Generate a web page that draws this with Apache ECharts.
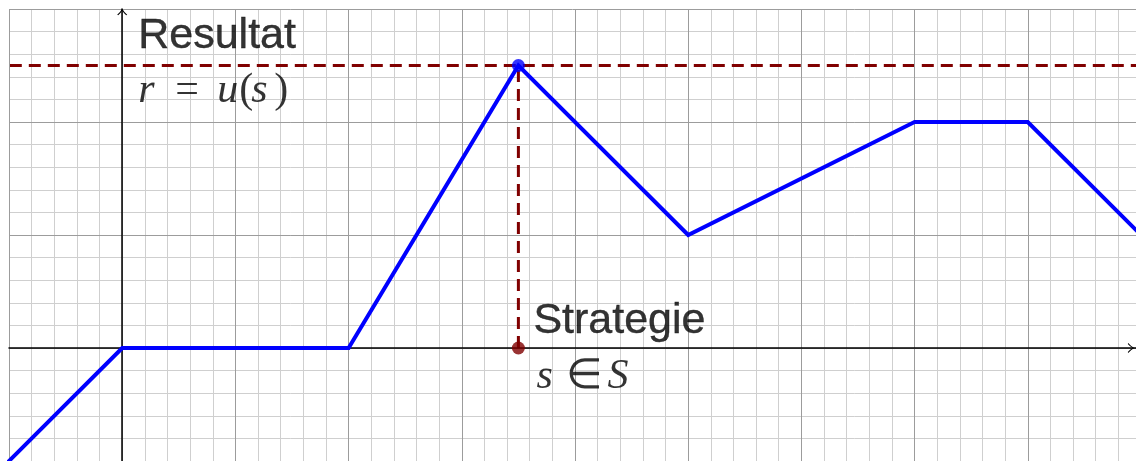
<!DOCTYPE html>
<html>
<head>
<meta charset="utf-8">
<script src="https://cdn.jsdelivr.net/npm/echarts@6/dist/echarts.min.js"></script>
<style>
  html, body { margin: 0; padding: 0; background: #fff; }
  #chart { width: 1136px; height: 461px; }
</style>
</head>
<body>
<div id="chart"></div>
<script>
// Nutzenfunktion r = u(s), stueckweise linear
const stratX = [-2, 0, 2, 3.5, 5, 7, 8, 10]
const resultY = [-2, 0, 0, 2.5, 1, 2, 2, 0]
// Optimum
const bestS = 3.5
const bestR = 2.5
// Achsenbereich (rechts abgeschnitten)
const xMin = -1
const xMax = 8.956
const yMin = -1
const yMax = 3
const axisTexts = ['Resultat', 'Strategie']

const blue = '#0000ff'
const darkRed = '#800000'
const arrow = 'path://M0,6 Q3,3.5 5,0 Q7,3.5 10,6 L9,6.4 Q6.5,4.3 5,1.6 Q3.5,4.3 1,6.4 Z'

const myChart = echarts.init(document.getElementById('chart'))

// Hauptachse mit grobem Gitter
function mainAxis (min, max, endOffset) {
  return {
    type: 'value',
    min: min,
    max: max,
    interval: 1,
    axisLabel: { show: false },
    axisTick: { show: false },
    axisLine: {
      show: true,
      onZero: true,
      symbol: ['none', arrow],
      symbolSize: [10, 6.4],
      symbolOffset: [0, endOffset],
      lineStyle: { color: '#000', width: 1.5 }
    },
    splitLine: { show: true, showMinLine: true, showMaxLine: max % 1 === 0, lineStyle: { color: '#9c9c9c', width: 1 } },
    z: 3
  }
}
// feines Gitter (0.2er Schritte)
function minorAxis (min, max) {
  return {
    type: 'value',
    min: min,
    max: max,
    interval: 0.2,
    axisLabel: { show: false },
    axisTick: { show: false },
    axisLine: { show: false },
    splitLine: { show: true, showMinLine: false, showMaxLine: false, lineStyle: { color: '#cfcfcf', width: 1 } },
    z: 1
  }
}

const sansLabel = { fontFamily: 'Liberation Sans', fontSize: 43, color: '#000', textBorderColor: '#000', textBorderWidth: 0.4 }
const mathFont = { fontFamily: 'Liberation Serif', fontSize: 42, color: '#000' }
const mathLabel = Object.assign({
  rich: {
    i: Object.assign({ fontStyle: 'italic' }, mathFont),
    n: Object.assign({}, mathFont),
    r: Object.assign({ fontStyle: 'italic', width: 37 }, mathFont),
    eq: Object.assign({ width: 42 }, mathFont),
    u: Object.assign({ fontStyle: 'italic', width: 22 }, mathFont),
    lp: Object.assign({ width: 12 }, mathFont),
    s: Object.assign({ fontStyle: 'italic', width: 23 }, mathFont),
    s2: Object.assign({ fontStyle: 'italic', width: 30 }, mathFont),
    el: Object.assign({ width: 41 }, mathFont)
  }
}, mathFont)

myChart.setOption({
  animation: false,
  backgroundColor: '#fff',
  grid: { left: 9, top: 9, right: 0, bottom: 0 },
  xAxis: [minorAxis(xMin, xMax), mainAxis(xMin, xMax, -5)],
  yAxis: [minorAxis(yMin, yMax), mainAxis(yMin, yMax, -3)],
  series: [
    {
      // gestrichelte Linie r = max
      type: 'line',
      xAxisIndex: 1,
      yAxisIndex: 1,
      clip: false,
      symbol: 'none',
      data: [[xMin - 1, bestR], [xMax + 1, bestR]],
      lineStyle: { color: darkRed, width: 3, type: [12, 7] },
      z: 2
    },
    {
      type: 'line',
      xAxisIndex: 1,
      yAxisIndex: 1,
      clip: false,
      symbol: 'none',
      data: [[bestS, 0], [bestS, bestR]],
      lineStyle: { color: darkRed, width: 3, type: [12, 7] },
      z: 2
    },
    {
      type: 'line',
      xAxisIndex: 1,
      yAxisIndex: 1,
      clip: false,
      symbol: 'none',
      data: stratX.map((x, i) => [x, resultY[i]]),
      lineStyle: { color: blue, width: 4, join: 'miter' },
      z: 3
    },
    {
      type: 'scatter',
      xAxisIndex: 1,
      yAxisIndex: 1,
      symbolSize: 13,
      data: [
        { value: [bestS, bestR], itemStyle: { color: blue } },
        { value: [bestS, 0], itemStyle: { color: darkRed } }
      ],
      z: 4
    },
    {
      // Beschriftungen
      type: 'scatter',
      xAxisIndex: 1,
      yAxisIndex: 1,
      symbolSize: 0,
      silent: true,
      data: [
        { value: [0, yMax], label: Object.assign({ show: true, formatter: axisTexts[0], position: [16, 27], align: 'left', verticalAlign: 'middle' }, sansLabel) },
        { value: [0, yMax], label: Object.assign({ show: true, formatter: '{r|r}{eq|=}{u|u}{lp|(}{s|s}{n|)}', position: [16, 82], align: 'left', verticalAlign: 'middle' }, mathLabel) },
        { value: [bestS, 0], label: Object.assign({ show: true, formatter: axisTexts[1], position: [15, -27], align: 'left', verticalAlign: 'middle' }, sansLabel) },
        { value: [bestS, 0], label: Object.assign({ show: true, formatter: '{s2|s}{el|∈}{i|S}', position: [18, 29], align: 'left', verticalAlign: 'middle' }, mathLabel) }
      ],
      z: 5
    }
  ]
})
</script>
</body>
</html>
